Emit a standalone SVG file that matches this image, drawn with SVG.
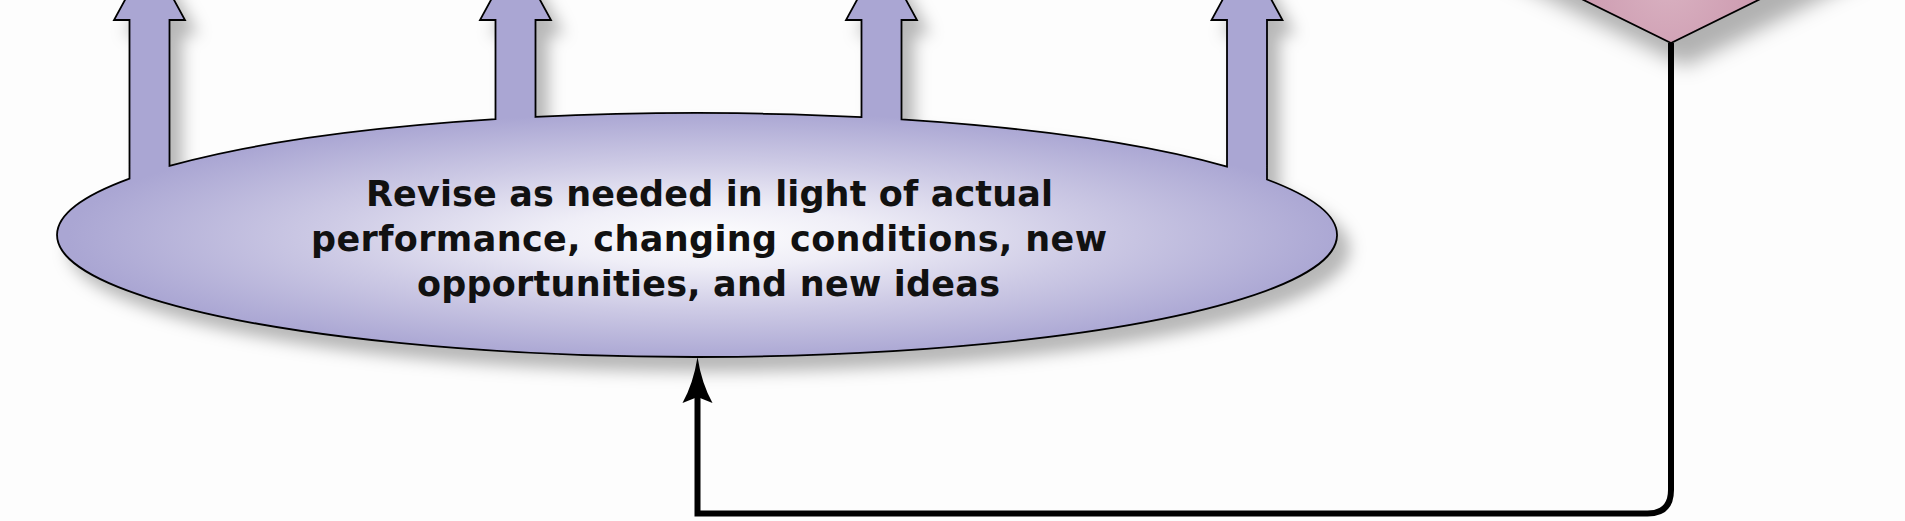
<svg xmlns="http://www.w3.org/2000/svg" width="1905" height="521" viewBox="0 0 1905 521">
  <defs>
    <style>
      .outline { stroke: #000; stroke-width: 1.8; stroke-linejoin: miter; }
      .label { font-family: "DejaVu Sans", "Liberation Sans", sans-serif; font-weight: bold; font-size: 35px; fill: #111; }
      .conn { fill: none; stroke: #000; stroke-width: 6; }
    </style>
    <radialGradient id="lav" gradientUnits="userSpaceOnUse" cx="0" cy="0" r="1" gradientTransform="translate(708 236) scale(640 124)">
      <stop offset="0" stop-color="#fdfdfe"/>
      <stop offset="0.25" stop-color="#efeef7"/>
      <stop offset="0.6" stop-color="#cdcae5"/>
      <stop offset="1" stop-color="#aaa6d3"/>
    </radialGradient>
    <radialGradient id="pink" gradientUnits="userSpaceOnUse" cx="1668" cy="-15" r="170">
      <stop offset="0" stop-color="#d9b1c1"/>
      <stop offset="1" stop-color="#c389a2"/>
    </radialGradient>
    <filter id="shadow" x="-10%" y="-30%" width="125%" height="180%">
      <feDropShadow dx="12" dy="14" stdDeviation="8" flood-color="#000" flood-opacity="0.28"/>
    </filter>
    <filter id="shadow2" x="-20%" y="-30%" width="150%" height="200%">
      <feDropShadow dx="14" dy="22" stdDeviation="10" flood-color="#000" flood-opacity="0.3"/>
    </filter>
    <marker id="head" markerUnits="userSpaceOnUse" viewBox="-46 -16 46 32" markerWidth="46" markerHeight="32" refX="-40" refY="0" orient="auto" overflow="visible">
      <path d="M0,0 Q-26,-4 -46,-15 L-40,0 L-46,15 Q-26,4 0,0 Z" fill="#000"/>
    </marker>
  </defs>
  <rect width="1905" height="521" fill="#fdfdfd"/>

  <g id="node-decision">
    <polygon points="1671,-157 1874,-57 1671,43 1468,-57" fill="url(#pink)" class="outline" filter="url(#shadow2)"/>
  </g>

  <g id="node-revise">
    <path filter="url(#shadow)" fill="url(#lav)" class="outline" d="M129.5,178.6 L129.5,20 L114,20 L149.5,-45 L185,20 L169.5,20 L169.5,165.9 A640,122 0 0 1 495.5,119.2 L495.5,20 L480,20 L515.5,-45 L551,20 L535.5,20 L535.5,116.95 A640,122 0 0 1 861.5,117.1 L861.5,20 L846,20 L881.5,-45 L917,20 L901.5,20 L901.5,119.4 A640,122 0 0 1 1227,166.6 L1227,20 L1211.5,20 L1247,-45 L1282.5,20 L1267,20 L1267,179.5 A640,122 0 1 1 129.5,178.6 Z"/>
    <text class="label" x="366" y="206" textLength="687" lengthAdjust="spacing">Revise as needed in light of actual</text>
    <text class="label" x="311" y="251" textLength="796" lengthAdjust="spacing">performance, changing conditions, new</text>
    <text class="label" x="417" y="296" textLength="583" lengthAdjust="spacing">opportunities, and new ideas</text>
  </g>

  <g id="connectors">
    <path class="conn" d="M1671,43 L1671,490 Q1671,513.5 1647.5,513.5 L697.5,513.5 L697.5,397" marker-end="url(#head)"/>
  </g>
</svg>
